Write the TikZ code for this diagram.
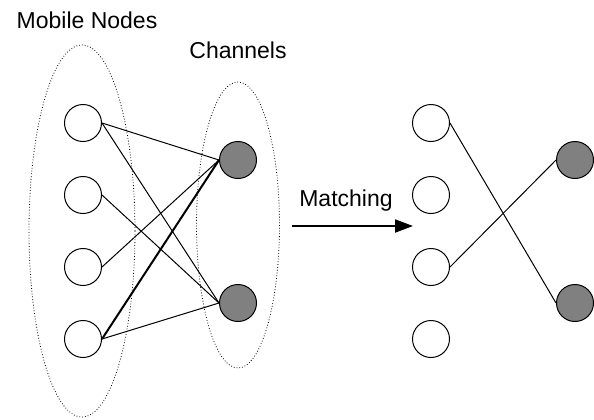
\documentclass[tikz,border=0pt]{standalone}
\usepackage{fontspec}
\setmainfont{Liberation Sans}
\usetikzlibrary{arrows.meta}
\begin{document}
\begin{tikzpicture}[x=0.5pt,y=-0.5pt,font=\fontsize{11.5}{14}\selectfont,
		usernode/.style={circle,draw,line width=0.5pt,fill=white,inner sep=0pt,minimum size=18.5pt},
		channode/.style={usernode,fill=black!50},
		link/.style={line width=0.5pt},
		group/.style={densely dotted,line width=0.4pt}]
	\useasboundingbox (0,0) rectangle (594,419);
	% Gruppen (gepunktete Ellipsen)
	\draw[group] (82,231) ellipse [x radius=53,y radius=186];
	\draw[group] (238,225) ellipse [x radius=41.5,y radius=143];
	\node (lblmobile) at (87,20) {Mobile Nodes};
	\node (lblchan) at (238,50) {Channels};
	% Linke Seite: alle moeglichen Verbindungen
	\foreach \i/\y in {1/123,2/195,3/267,4/339}
		\node[usernode] (m\i) at (83,\y) {};
	\node[channode] (c1) at (238,160) {};
	\node[channode] (c2) at (238,303) {};
	\draw[link] (m1.east) -- (c1.west);
	\draw[link] (m1.east) -- (c2.west);
	\draw[link] (m2.east) -- (c2.west);
	\draw[link] (m3.east) -- (c1.west);
	\draw[link,line width=1pt] (m4.east) -- (c1.west);
	\draw[link] (m4.east) -- (c2.west);
	% Pfeil
	\coordinate (arrfrom) at (292,226);
	\coordinate (arrto) at (413,226);
	\draw[line width=1pt,-{Triangle[length=9pt,width=6.5pt]}] (arrfrom) -- (arrto);
	\node (lblmatch) at (346,201) {Matching};
	% Rechte Seite: Ergebnis
	\foreach \i/\y in {1/123,2/195,3/267,4/339}
		\node[usernode] (r\i) at (431,\y) {};
	\node[channode] (d1) at (575,160) {};
	\node[channode] (d2) at (575,303) {};
	\draw[link] (r1.east) -- (d2.west);
	\draw[link] (r3.east) -- (d1.west);
\end{tikzpicture}
\end{document}
